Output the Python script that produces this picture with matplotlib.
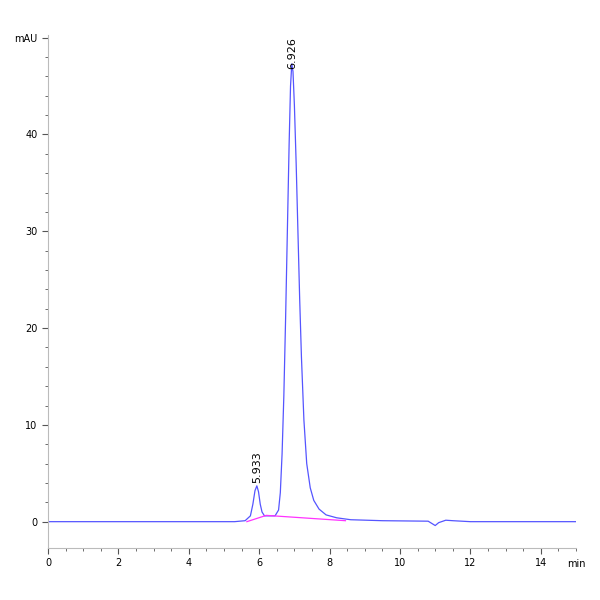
import matplotlib
matplotlib.use("Agg")
import matplotlib.pyplot as plt
import numpy as np

t = [0, 5.3, 5.6, 5.75, 5.82, 5.88, 5.933, 5.98, 6.03, 6.08, 6.15, 6.3, 6.45, 6.55, 6.6, 6.65, 6.7, 6.75, 6.8, 6.85, 6.89, 6.926,
     6.96, 7.0, 7.05, 7.1, 7.15, 7.2, 7.27, 7.35, 7.45, 7.55, 7.7, 7.9, 8.2, 8.6, 9.5, 10.8, 11.0, 11.1, 11.3, 11.5, 12, 15]
v = [0, 0, 0.1, 0.6, 1.8, 3.2, 3.7, 3.1, 1.8, 1.0, 0.6, 0.6, 0.6, 1.2, 3.0, 7, 13, 21, 30, 39, 45, 47.3,
     46.5, 43, 37, 30, 23, 17, 10.5, 6.0, 3.5, 2.2, 1.3, 0.7, 0.4, 0.2, 0.1, 0.05, -0.4, -0.1, 0.15, 0.1, 0, 0]
base_t = [5.65, 6.2, 8.45]
base_v = [0.0, 0.65, 0.1]
peak_t = [5.933, 6.926]
peak_h = [3.7, 46.5]
peak_lbl = ["5.933", "6.926"]

fig = plt.figure(figsize=(6, 6), dpi=100)
ax = fig.add_axes([0.08, 0.087, 0.88, 0.855])
ax.plot(t, v, color="#5555ff", lw=0.9)
ax.plot(base_t, base_v, color="#ff33ff", lw=0.9)
for pt, ph, pl in zip(peak_t, peak_h, peak_lbl):
    ax.text(pt, ph + 0.3, pl, rotation=90, ha="center", va="bottom", fontsize=8)
ax.set_xlim(0, 15)
ax.set_ylim(-2.7, 50.3)
ax.set_xticks(range(0, 15, 2))
ax.set_xticks(np.arange(0, 15.01, 0.5), minor=True)
ax.set_yticks([0, 10, 20, 30, 40, 50])
ax.set_yticklabels(["0", "10", "20", "30", "40", "mAU"])
ax.set_yticks(np.arange(0, 50.1, 2), minor=True)
ax.text(15, -3.9, "min", ha="center", va="top", fontsize=7)
for s in ["top", "right"]:
    ax.spines[s].set_visible(False)
for s in ["left", "bottom"]:
    ax.spines[s].set_color("#bbbbbb")
ax.tick_params(labelsize=7, length=4, color="#555555")
ax.tick_params(which="minor", length=2, color="#555555")
fig.savefig("out.png")
